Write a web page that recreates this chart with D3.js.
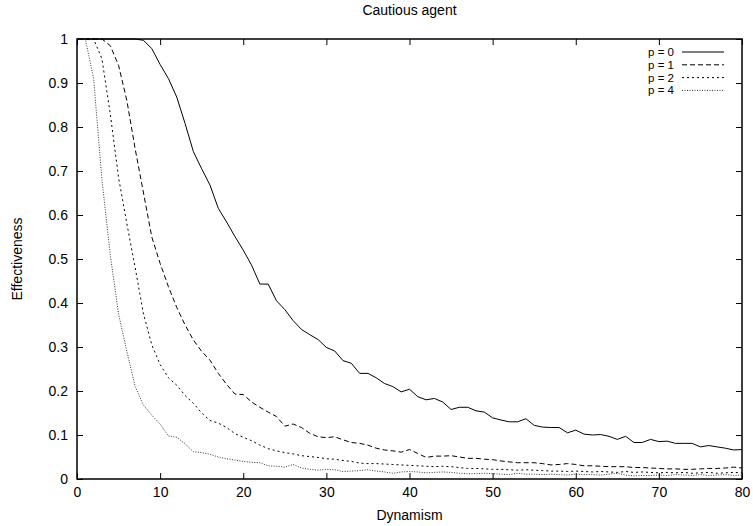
<!DOCTYPE html>
<html>
<head>
<meta charset="utf-8">
<script src="https://cdn.jsdelivr.net/npm/d3@7"></script>
<style>
  body { margin: 0; background: #fff; }
  text { font-family: "Liberation Sans", Arial, sans-serif; font-size: 14px; fill: #000; }
</style>
</head>
<body>
<div id="chart"></div>
<script>
// dynamism values 0..80
var dynamism = d3.range(0, 81);

var p0 = [1, 1, 1, 1, 1, 1, 1, 1, 0.997, 0.978,
          0.942, 0.91, 0.868, 0.808, 0.744, 0.705, 0.668, 0.615, 0.584, 0.551,
          0.52, 0.486, 0.443, 0.443, 0.405, 0.385, 0.36, 0.34, 0.328, 0.317,
          0.299, 0.291, 0.269, 0.263, 0.24, 0.24, 0.23, 0.217, 0.21, 0.198,
          0.204, 0.187, 0.18, 0.183, 0.175, 0.158, 0.163, 0.163, 0.155, 0.152,
          0.139, 0.134, 0.13, 0.13, 0.137, 0.122, 0.118, 0.117, 0.117, 0.105,
          0.111, 0.102, 0.1, 0.101, 0.097, 0.09, 0.097, 0.083, 0.083, 0.09,
          0.085, 0.086, 0.081, 0.081, 0.081, 0.073, 0.076, 0.073, 0.07, 0.066,
          0.067];

var p1 = [1, 1, 1, 1, 0.985, 0.94, 0.86, 0.75, 0.65, 0.55,
          0.49, 0.437, 0.39, 0.35, 0.316, 0.29, 0.27, 0.24, 0.215, 0.193,
          0.192, 0.175, 0.163, 0.152, 0.142, 0.12, 0.125, 0.117, 0.104, 0.096,
          0.094, 0.096, 0.089, 0.083, 0.081, 0.077, 0.07, 0.066, 0.064, 0.061,
          0.067, 0.058, 0.049, 0.052, 0.052, 0.053, 0.05, 0.047, 0.047, 0.045,
          0.044, 0.041, 0.039, 0.037, 0.037, 0.037, 0.035, 0.032, 0.033, 0.035,
          0.033, 0.03, 0.03, 0.029, 0.028, 0.028, 0.028, 0.026, 0.026, 0.025,
          0.024, 0.023, 0.023, 0.022, 0.022, 0.023, 0.024, 0.024, 0.025, 0.027,
          0.025];

var p2 = [1, 1, 1, 0.955, 0.83, 0.685, 0.58, 0.48, 0.375, 0.305,
          0.26, 0.23, 0.213, 0.19, 0.172, 0.15, 0.133, 0.127, 0.117, 0.103,
          0.095, 0.087, 0.077, 0.069, 0.064, 0.06, 0.057, 0.053, 0.051, 0.049,
          0.046, 0.045, 0.042, 0.04, 0.036, 0.035, 0.035, 0.034, 0.033, 0.032,
          0.031, 0.03, 0.029, 0.028, 0.029, 0.028, 0.026, 0.024, 0.024, 0.023,
          0.022, 0.022, 0.021, 0.02, 0.021, 0.02, 0.019, 0.018, 0.018, 0.017,
          0.018, 0.017, 0.016, 0.017, 0.016, 0.015, 0.017, 0.015, 0.016, 0.015,
          0.014, 0.015, 0.014, 0.015, 0.013, 0.014, 0.015, 0.013, 0.014, 0.015,
          0.014];

var p4 = [1, 1, 0.91, 0.68, 0.51, 0.375, 0.29, 0.21, 0.168, 0.145,
          0.125, 0.098, 0.095, 0.08, 0.062, 0.06, 0.056, 0.05, 0.046, 0.043,
          0.04, 0.038, 0.037, 0.03, 0.029, 0.027, 0.033, 0.025, 0.022, 0.02,
          0.022, 0.021, 0.017, 0.018, 0.019, 0.021, 0.018, 0.016, 0.013, 0.016,
          0.017, 0.016, 0.014, 0.015, 0.016, 0.015, 0.013, 0.012, 0.012, 0.013,
          0.012, 0.011, 0.01, 0.013, 0.011, 0.011, 0.01, 0.011, 0.01, 0.009,
          0.011, 0.01, 0.01, 0.009, 0.011, 0.013, 0.009, 0.007, 0.008, 0.008,
          0.009, 0.008, 0.01, 0.009, 0.008, 0.01, 0.008, 0.009, 0.01, 0.008,
          0.009];

var seriesNames = ["p = 0", "p = 1", "p = 2", "p = 4"];
var seriesValues = [p0, p1, p2, p4];
var dashes = [null, "5,3", "2,3", "1,1.5"];

var xTicks = [0, 10, 20, 30, 40, 50, 60, 70, 80];
var yTicks = [0, 0.1, 0.2, 0.3, 0.4, 0.5, 0.6, 0.7, 0.8, 0.9, 1];

var w = 753;
var h = 526;
var margin = {top: 39, right: 11, bottom: 47, left: 77};
var iw = w - margin.left - margin.right;
var ih = h - margin.top - margin.bottom;
var tick = 6;

var xScale = d3.scaleLinear().domain([0, 80]).range([0, iw]);
var yScale = d3.scaleLinear().domain([0, 1]).range([ih, 0]);

var svg = d3.select("#chart")
            .append("svg")
            .attr("width", w)
            .attr("height", h);

var g = svg.append("g")
           .attr("transform", "translate(" + margin.left + "," + margin.top + ")");

var fmt = function(d) { return String(+d.toFixed(1)); };

// inward ticks on all four sides, gnuplot style
g.append("g")
 .attr("transform", "translate(0," + ih + ")")
 .call(d3.axisBottom(xScale).tickValues(xTicks).tickSize(-tick).tickPadding(8).tickFormat(fmt));
g.append("g")
 .call(d3.axisTop(xScale).tickValues(xTicks).tickSize(-tick).tickFormat(""));
g.append("g")
 .call(d3.axisLeft(yScale).tickValues(yTicks).tickSize(-tick).tickPadding(9).tickFormat(fmt));
g.append("g")
 .attr("transform", "translate(" + iw + ",0)")
 .call(d3.axisRight(yScale).tickValues(yTicks).tickSize(-tick).tickFormat(""));

g.selectAll(".domain").remove();
g.selectAll(".tick line").attr("stroke", "#000");
g.selectAll(".tick text")
 .style("font-family", "'Liberation Sans', Arial, sans-serif")
 .style("font-size", "14px")
 .attr("fill", "#000");

g.append("rect")
 .attr("x", 0)
 .attr("y", 0)
 .attr("width", iw)
 .attr("height", ih)
 .attr("fill", "none")
 .attr("stroke", "#000")
 .attr("stroke-width", 1.5);

var line = d3.line()
             .x(function(d, i) { return xScale(dynamism[i]); })
             .y(function(d) { return yScale(d); });

g.selectAll("path.series")
 .data(seriesValues)
 .enter()
 .append("path")
 .attr("class", "series")
 .attr("d", line)
 .attr("fill", "none")
 .attr("stroke", function(d, i) { return i == 3 ? "#333" : "#000"; })
 .attr("stroke-width", 1)
 .attr("stroke-dasharray", function(d, i) { return dashes[i]; });

// legend
var legend = g.selectAll("g.legend")
              .data(seriesNames)
              .enter()
              .append("g")
              .attr("class", "legend")
              .attr("transform", function(d, i) {
                  return "translate(0," + (13 + i * 12.8) + ")";
              });

legend.append("text")
      .attr("x", 597)
      .attr("y", 0)
      .attr("dy", "0.35em")
      .attr("text-anchor", "end")
      .style("font-size", "11.5px")
      .text(function(d) { return d; });

legend.append("line")
      .attr("x1", 605)
      .attr("x2", 647)
      .attr("y1", 0)
      .attr("y2", 0)
      .attr("stroke", function(d, i) { return i == 3 ? "#333" : "#000"; })
      .attr("stroke-width", 1)
      .attr("stroke-dasharray", function(d, i) { return dashes[i]; });

svg.append("text")
   .attr("x", margin.left + iw / 2)
   .attr("y", 15)
   .attr("text-anchor", "middle")
   .text("Cautious agent");

svg.append("text")
   .attr("x", margin.left + iw / 2)
   .attr("y", 520)
   .attr("text-anchor", "middle")
   .text("Dynamism");

svg.append("text")
   .attr("transform", "translate(22," + (margin.top + ih / 2) + ") rotate(-90)")
   .attr("text-anchor", "middle")
   .text("Effectiveness");
</script>
</body>
</html>
